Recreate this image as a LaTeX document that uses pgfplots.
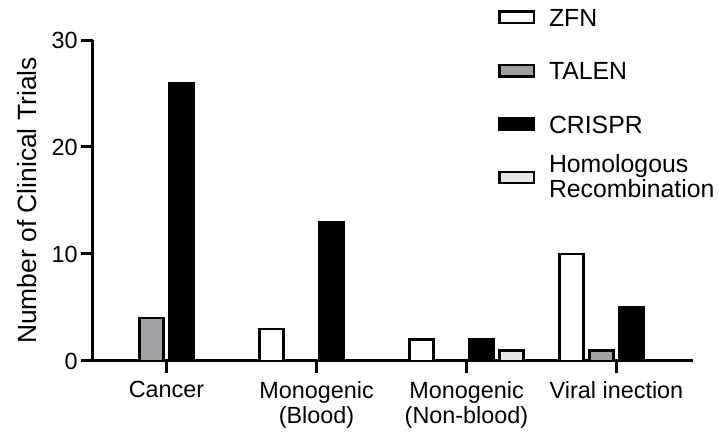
\documentclass[border=0pt]{standalone}
\usepackage{fontspec}
\setmainfont{Liberation Sans}
\usepackage{pgfplots}
\pgfplotsset{compat=1.18}
\definecolor{talen}{RGB}{160,160,164}
\definecolor{hrc}{RGB}{230,230,230}
\begin{document}
\fontsize{11.7}{13}\selectfont
\begin{tikzpicture}
\begin{axis}[name=ax, scale only axis, width=300pt, height=160.5pt,
 xmin=-0.49, xmax=3.51, ymin=0, ymax=30,
 axis x line*=bottom, axis y line*=left,
 axis line style={line width=1.5pt, -},
 every tick/.style={black, line width=1.5pt},
 tick align=outside, major tick length=6pt,
 xtick={0,1,2,3},
 xticklabels={Cancer, {Monogenic\\(Blood)}, {Monogenic\\(Non-blood)}, Viral inection},
 xticklabel style={align=center, font=\fontsize{11.7}{12.8}\selectfont},
 ytick={0,10,20,30},
 yticklabel style={inner sep=1.5pt},
 /pgf/number format/assume math mode=true,
 ylabel={Number of Clinical Trials},
 ylabel style={font=\fontsize{13.2}{14}\selectfont},
 ylabel shift=2pt,
 ybar, bar width=0.16,
 legend cell align=left,
 legend style={draw=none, fill=none, at={(axis description cs:0.675,1.112)}, anchor=north west,
   inner sep=0pt, row sep=13.8pt, column sep=5pt,
   nodes={text height=8.9pt, text depth=0pt, font=\fontsize{12.4}{11.5}\selectfont}},
]
\addplot[ybar, area legend, bar shift=-0.3, fill=white, draw=black, line width=1.25pt] coordinates {(1,3) (2,2) (3,10)};
\addlegendentry{ZFN}
\addplot[ybar, area legend, bar shift=-0.1, fill=talen, draw=black, line width=1.25pt] coordinates {(0,4) (3,1)};
\addlegendentry{TALEN}
\addplot[ybar, area legend, bar shift=0.1, fill=black, draw=black, line width=1.25pt] coordinates {(0,26) (1,13) (2,2) (3,5)};
\addlegendentry{CRISPR}
\addplot[ybar, area legend, bar shift=0.3, fill=hrc, draw=black, line width=1.25pt] coordinates {(2,1)};
\addlegendentry{\raisebox{7pt}{\begin{tabular}[t]{@{}l@{}}Homologous\\Recombination\end{tabular}}}
\end{axis}
\pgfresetboundingbox
\path (ax.south west) ++(-46.5pt,-36pt) rectangle ++(359.5pt,216.5pt);
\end{tikzpicture}
\end{document}
